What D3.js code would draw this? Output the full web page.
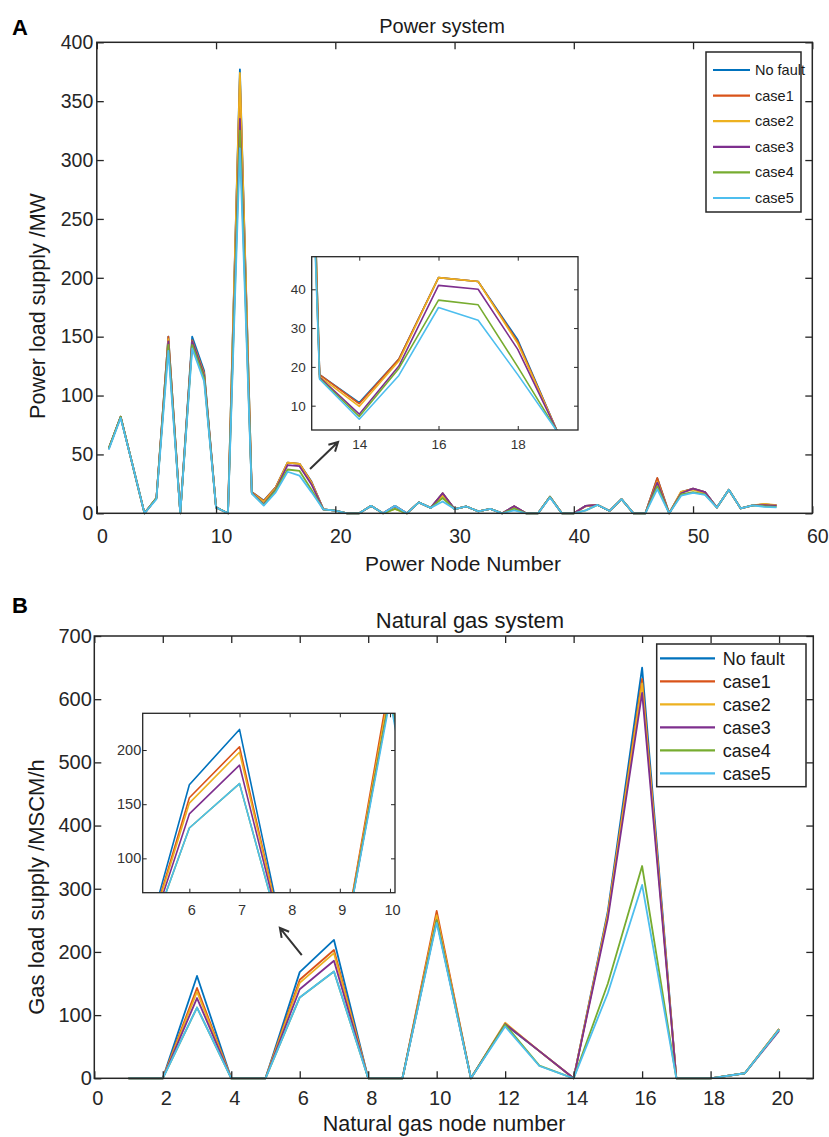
<!DOCTYPE html>
<html><head><meta charset="utf-8">
<script src="https://cdn.jsdelivr.net/npm/d3@7"></script>
<style>
body{margin:0;background:#fff;}
svg{display:block;font-family:"Liberation Sans",Arial,sans-serif;}
</style></head><body>
<svg id="c" width="829" height="1137"></svg>
<script>
// ---------------- data ----------------
const seriesNames = ["No fault","case1","case2","case3","case4","case5"];
const seriesColors = ["#0072BD","#D95319","#EDB120","#7E2F8E","#77AC30","#4DBEEE"];

const powerNodes = [1,2,3,4,5,6,7,8,9,10,11,12,13,14,15,16,17,18,19,20,21,22,23,24,25,26,27,28,29,30,31,32,33,34,35,36,37,38,39,40,41,42,43,44,45,46,47,48,49,50,51,52,53,54,55,56,57];
const powerNoFault = [55,82,41,0,13,150,0,150,121,5,0,377,18,10.8,22,43,42,27,3.3,2.3,0,0,6.3,0,6.3,0,9.3,4.6,17,3.6,5.8,1.6,3.8,0,6,0,0,14,0,0,6.3,7.1,2,12,0,0,29.7,0,18,21,18,4.9,20,4.1,6.8,7.6,6.7];
const powerCase1   = [55,82,41,0,13,150,0,147,119,5,0,370,18,10.5,22,43,42,26.5,3.3,2.3,0,0,6.3,0,6.3,0,9.3,4.6,17,3.6,5.8,1.6,3.8,0,6,0,0,14,0,0,6.3,7.1,2,12,0,0,30,0,18,21,18,4.9,20,4.1,6.8,7.6,6.7];
const powerCase2   = [55,82,41,0,13,148,0,146,118,5,0,374,17.5,9.8,21.5,43,42,26,3.3,2.3,0,0,6.3,0,3.8,0,9.3,4.6,15,3.6,5.8,1.6,3.8,0,5,0,0,14,0,0,6,7.1,2,12,0,0,27,0,18.5,20,17,4.9,20,4.1,6.8,8,7];
const powerCase3   = [55,82,41,0,13,146,0,146,117,5,0,335,17.3,7.8,20.2,41,40,24.5,3.3,2.3,0,0,6.3,0,6,0,9.3,4.6,17,3.6,5.8,1.6,3.8,0,6,0,0,14,0,0,6.3,7.1,2,12,0,0,26,0,17,21,18,4.9,20,4.1,6.8,7,6.5];
const powerCase4   = [55,82,41,0,13,143,0,143,115,5,0,325,17,7.2,19.6,37.2,36,20,3.3,2.3,0,0,6.3,0,3.8,0,9.3,4.6,13,3.6,5.8,1.6,3.8,0,4,0,0,14,0,0,2.5,7.1,2,12,0,0,23,0,16,18,16,4.9,20,4.1,6.8,6,5.5];
const powerCase5   = [54,81,41,0,12,138,0,140,112,5,0,310,16.8,6.5,17.8,35.3,32,18,3.3,2.3,0,0,6.3,0,6.3,0,9.3,4.6,10,3.6,5.8,1.6,3.8,0,2.5,0,0,13.5,0,0,2.5,7.1,2,12,0,0,20.5,0,15,17.3,15.6,4.9,20,4.1,6.8,5.5,5];

const gasNodes   = [1,2,3,4,5,6,7,8,9,10,11,12,13,14,15,16,17,18,19,20];
const gasNoFault = [0,0,162,0,0,168,219,0,0,258,0,85,43,0,265,650,0,0,8,78];
const gasCase1   = [0,0,143,0,0,156,203,0,0,265,0,86,43,0,260,632,0,0,8,78];
const gasCase2   = [0,0,137,0,0,151,198,0,0,258,0,88,43,0,260,625,0,0,8,78];
const gasCase3   = [0,0,127,0,0,141,186,0,0,250,0,86,43,0,253,610,0,0,8,75];
const gasCase4   = [0,0,112,0,0,128,169,0,0,250,0,85,20,0,150,336,0,0,8,77];
const gasCase5   = [0,0,112,0,0,128,169,0,0,246,0,82,19.5,0,135,306,0,0,8,77];

const powerXTicks = [0,10,20,30,40,50,60];
const powerYTicks = [0,50,100,150,200,250,300,350,400];
const powerInsetXTicks = [14,16,18];
const powerInsetYTicks = [10,20,30,40];
const gasXTicks = [0,2,4,6,8,10,12,14,16,18,20];
const gasYTicks = [0,100,200,300,400,500,600,700];
const gasInsetXTicks = [6,7,8,9,10];
const gasInsetYTicks = [100,150,200];

const powerSeries = [powerNoFault,powerCase1,powerCase2,powerCase3,powerCase4,powerCase5];
const gasSeries = [gasNoFault,gasCase1,gasCase2,gasCase3,gasCase4,gasCase5];

// ---------------- drawing ----------------
const svg = d3.select("#c");
const AX = "#262626";
let clipId = 0;

function frame(x, y, o){
  const [x0,x1] = x.range(), [y0,y1] = y.range();
  const g = svg.append("g").attr("color", AX);
  const gb = g.append("g").attr("transform",`translate(0,${y0})`)
    .call(d3.axisBottom(x).tickValues(o.xt).tickSize(-o.tl).tickPadding(o.xpad).tickFormat(d3.format("d")));
  gb.selectAll("text").attr("dx", o.xdx).attr("font-size", o.fs).attr("fill", o.tc || AX);
  g.append("g").attr("transform",`translate(0,${y1})`)
    .call(d3.axisTop(x).tickValues(o.xt).tickSize(-o.tl).tickFormat(""));
  const gl = g.append("g").attr("transform",`translate(${x0},0)`)
    .call(d3.axisLeft(y).tickValues(o.yt).tickSize(-o.tl).tickPadding(o.ypad).tickFormat(d3.format("d")));
  gl.selectAll("text").attr("font-size", o.fs).attr("fill", o.tc || AX);
  g.append("g").attr("transform",`translate(${x1},0)`)
    .call(d3.axisRight(y).tickValues(o.yt).tickSize(-o.tl).tickFormat(""));
  g.selectAll("g").attr("font-family", null).attr("font-size", null);
  g.selectAll(".domain").remove();
  g.selectAll(".tick line").attr("stroke-width", o.sw);
  g.append("rect").attr("x", x0).attr("y", y1).attr("width", x1-x0).attr("height", y0-y1)
    .attr("fill","none").attr("stroke", AX).attr("stroke-width", o.bw);
  return g;
}

function lines(x, y, nodes, series, lw, clip){
  const g = svg.append("g");
  if (clip){
    const id = "clip"+(clipId++);
    const [x0,x1] = x.range(), [y0,y1] = y.range();
    svg.append("clipPath").attr("id", id).append("rect")
      .attr("x", x0).attr("y", y1).attr("width", x1-x0).attr("height", y0-y1);
    g.attr("clip-path", `url(#${id})`);
  }
  const line = d3.line().x(d=>x(d[0])).y(d=>y(d[1]));
  series.forEach((s,i)=>{
    g.append("path").datum(nodes.map((n,k)=>[n,s[k]]))
      .attr("d", line).attr("fill","none").attr("stroke", seriesColors[i])
      .attr("stroke-width", lw).attr("stroke-linejoin","round");
  });
}

function insetBg(x, y){
  const [x0,x1] = x.range(), [y0,y1] = y.range();
  svg.append("rect").attr("x", x0).attr("y", y1).attr("width", x1-x0).attr("height", y0-y1).attr("fill","#fff");
}

function legend(o){
  const g = svg.append("g");
  g.append("rect").attr("x", o.x).attr("y", o.y).attr("width", o.w).attr("height", o.h)
    .attr("fill","#fff").attr("stroke", AX).attr("stroke-width", 1.5);
  seriesNames.forEach((nm,i)=>{
    const yy = o.r0 + i*o.dr;
    g.append("line").attr("x1", o.lx0).attr("x2", o.lx1).attr("y1", yy).attr("y2", yy)
      .attr("stroke", seriesColors[i]).attr("stroke-width", 2.2);
    g.append("text").attr("x", o.tx).attr("y", yy).attr("dy","0.35em")
      .attr("font-size", o.fs).attr("fill", "#1a1a1a").text(nm);
  });
}

function arrow(x1,y1,x2,y2){
  const a = Math.atan2(y2-y1, x2-x1), L = 10, s = 0.5;
  const p = `M${x1},${y1}L${x2},${y2}M${x2-L*Math.cos(a-s)},${y2-L*Math.sin(a-s)}L${x2},${y2}L${x2-L*Math.cos(a+s)},${y2-L*Math.sin(a+s)}`;
  svg.append("path").attr("d", p).attr("fill","none").attr("stroke","#333").attr("stroke-width",2);
}

// ---- Panel A ----
const xA = d3.scaleLinear().domain([0,60]).range([96.8,812.3]);
const yA = d3.scaleLinear().domain([0,400]).range([513.3,42.3]);
lines(xA, yA, powerNodes, powerSeries, 1.8, false);
frame(xA, yA, {xt:powerXTicks, yt:powerYTicks, tl:7, xpad:16, xdx:5, ypad:3.5, fs:19.5, sw:1.3, bw:1.5});
arrow(xA(17.88), yA(37.6), xA(20.23), yA(60.5));

const xAi = d3.scaleLinear().domain([12.8,19.52]).range([311.7,578]);
const yAi = d3.scaleLinear().domain([3.73,48.4]).range([430,256.7]);
insetBg(xAi, yAi);
lines(xAi, yAi, powerNodes, powerSeries, 1.6, true);
frame(xAi, yAi, {xt:powerInsetXTicks, yt:powerInsetYTicks, tl:4, xpad:9, xdx:0, ypad:6, fs:13.5, sw:1, bw:1.3, tc:"#333"});

legend({x:706, y:52, w:95, h:160, r0:70, dr:25.6, lx0:713, lx1:750, tx:755, fs:14.5});

svg.append("text").attr("x", 12).attr("y", 35).attr("font-size", 22).attr("font-weight","bold").text("A");
svg.append("text").attr("x", 442).attr("y", 33).attr("text-anchor","middle").attr("font-size", 20).attr("fill","#1a1a1a").text("Power system");
svg.append("text").attr("x", 463).attr("y", 571).attr("text-anchor","middle").attr("font-size", 21).attr("fill","#1a1a1a").text("Power Node Number");
svg.append("text").attr("transform","translate(45,306) rotate(-90)").attr("text-anchor","middle").attr("font-size", 21.5).attr("fill","#1a1a1a").text("Power load supply /MW");

// ---- Panel B ----
const xB = d3.scaleLinear().domain([0,21]).range([94.3,813.3]);
const yB = d3.scaleLinear().domain([0,700]).range([1078.3,636]);
lines(xB, yB, gasNodes, gasSeries, 1.8, false);
frame(xB, yB, {xt:gasXTicks, yt:gasYTicks, tl:7, xpad:12.5, xdx:3, ypad:2.5, fs:20, sw:1.3, bw:1.5});
arrow(xB(6.06), yB(195), xB(5.42), yB(237.9));

const xBi = d3.scaleLinear().domain([5.07,10.1]).range([142.7,395]);
const yBi = d3.scaleLinear().domain([68.3,233.9]).range([892.7,713.3]);
insetBg(xBi, yBi);
lines(xBi, yBi, gasNodes, gasSeries, 1.6, true);
frame(xBi, yBi, {xt:gasInsetXTicks, yt:gasInsetYTicks, tl:4, xpad:12, xdx:2, ypad:1.5, fs:14.5, sw:1, bw:1.3, tc:"#333"});

legend({x:656.7, y:644, w:149.3, h:142.7, r0:658.3, dr:23, lx0:660, lx1:715, tx:722.7, fs:18});

svg.append("text").attr("x", 12).attr("y", 613).attr("font-size", 22).attr("font-weight","bold").text("B");
svg.append("text").attr("x", 470).attr("y", 628).attr("text-anchor","middle").attr("font-size", 22).attr("fill","#1a1a1a").text("Natural gas system");
svg.append("text").attr("x", 444).attr("y", 1131).attr("text-anchor","middle").attr("font-size", 21.5).attr("fill","#1a1a1a").text("Natural gas node number");
svg.append("text").attr("transform","translate(44,887) rotate(-90)").attr("text-anchor","middle").attr("font-size", 22).attr("fill","#1a1a1a").text("Gas load supply /MSCM/h");
</script>
</body></html>
